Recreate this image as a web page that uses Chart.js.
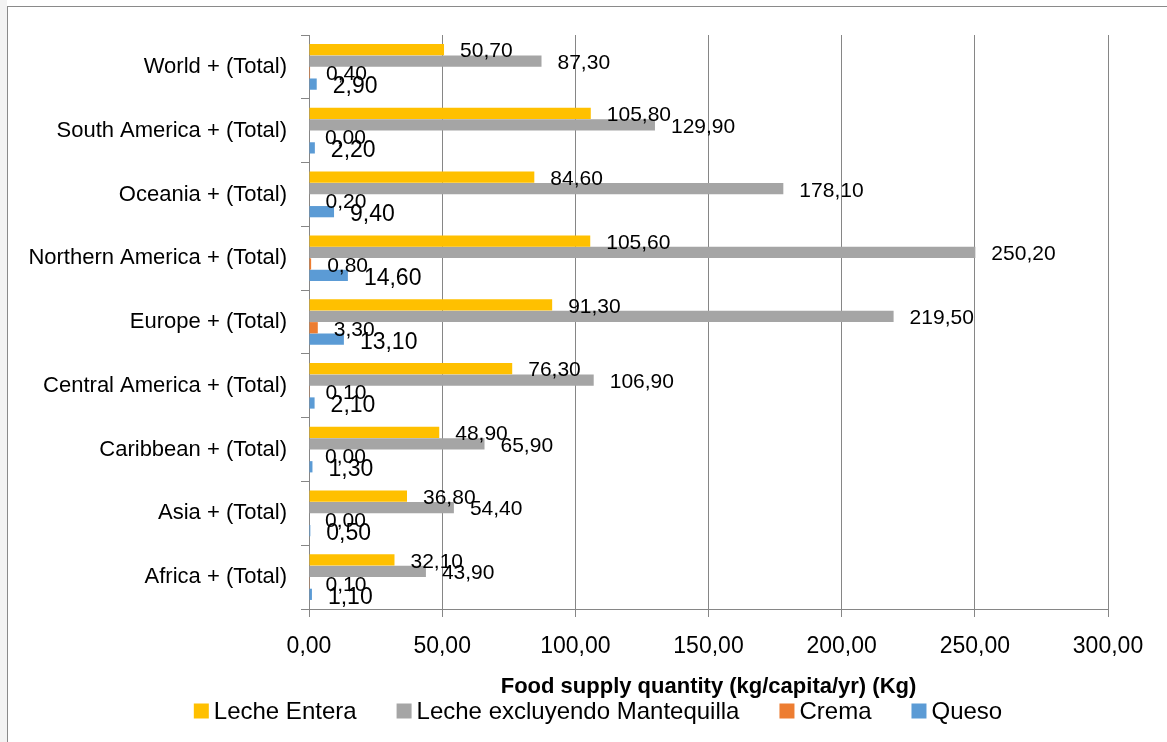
<!DOCTYPE html>
<html>
<head>
<meta charset="utf-8">
<script src="https://cdn.jsdelivr.net/npm/chart.js@4.4.1/dist/chart.umd.min.js"></script>
<style>
  html, body { margin: 0; padding: 0; background: #ffffff; }
  #wrap { position: relative; width: 1167px; height: 742px; overflow: hidden; }
  #strip { position: absolute; left: 0; top: 0; width: 7px; height: 742px; background: #f3f3f3; }
  #frame { position: absolute; left: 7px; top: 6px; width: 1200px; height: 800px; border-left: 1px solid #8a8a8a; border-top: 1px solid #8a8a8a; }
  #c { position: absolute; left: 0; top: 0; }
</style>
</head>
<body>
<div id="wrap">
  <div id="strip"></div>
  <div id="frame"></div>
  <canvas id="c" width="1167" height="742"></canvas>
</div>
<script>
const categories = [
  "World + (Total)",
  "South America + (Total)",
  "Oceania + (Total)",
  "Northern America + (Total)",
  "Europe + (Total)",
  "Central America + (Total)",
  "Caribbean + (Total)",
  "Asia + (Total)",
  "Africa + (Total)"
];
const lecheEntera = [50.7, 105.8, 84.6, 105.6, 91.3, 76.3, 48.9, 36.8, 32.1];
const lecheExcl   = [87.3, 129.9, 178.1, 250.2, 219.5, 106.9, 65.9, 54.4, 43.9];
const crema       = [0.4, 0.0, 0.2, 0.8, 3.3, 0.1, 0.0, 0.0, 0.1];
const queso       = [2.9, 2.2, 9.4, 14.6, 13.1, 2.1, 1.3, 0.5, 1.1];
const seriesNames = ["Leche Entera", "Leche excluyendo Mantequilla", "Crema", "Queso"];
const xTicks = [0, 50, 100, 150, 200, 250, 300];
const axisTitle = "Food supply quantity (kg/capita/yr) (Kg)";

const FONT = "'Liberation Sans', Arial, sans-serif";
const fmt = v => v.toFixed(2).replace('.', ',');

const labelPlugin = {
  id: 'valueLabels',
  afterDatasetsDraw(chart) {
    const ctx = chart.ctx;
    ctx.save();
    chart.data.datasets.forEach((ds, di) => {
      const meta = chart.getDatasetMeta(di);
      const size = di === 3 ? 23 : 21;
      ctx.font = size + "px " + FONT;
      ctx.fillStyle = '#000000';
      ctx.textAlign = 'left';
      ctx.textBaseline = 'middle';
      meta.data.forEach((el, i) => {
        const x = Math.max(el.x, el.base) + 16;
        ctx.fillText(fmt(ds.data[i]), x, el.y + (di === 3 ? 3 : 2));
      });
    });
    ctx.restore();
  }
};

// Legend built from the chart's datasets (names + colours)
const legendPlugin = {
  id: 'bottomLegend',
  afterDraw(chart) {
    const ctx = chart.ctx;
    const box = 15, textGap = 5, itemGap = 40, centerX = 598, cy = 711;
    ctx.save();
    ctx.font = "24px " + FONT;
    const items = chart.data.datasets.map(ds => ({
      text: ds.label, color: ds.backgroundColor,
      w: box + textGap + ctx.measureText(ds.label).width
    }));
    const total = items.reduce((s, it) => s + it.w, 0) + itemGap * (items.length - 1);
    let x = centerX - total / 2;
    ctx.textBaseline = 'middle';
    ctx.textAlign = 'left';
    items.forEach(it => {
      ctx.fillStyle = it.color;
      ctx.fillRect(x, cy - box / 2, box, box);
      ctx.fillStyle = '#000';
      ctx.fillText(it.text, x + box + textGap, cy + 1);
      x += it.w + itemGap;
    });
    ctx.restore();
  }
};

new Chart(document.getElementById('c'), {
  type: 'bar',
  data: {
    labels: categories,
    datasets: [
      { label: seriesNames[0], data: lecheEntera, backgroundColor: '#FFC000' },
      { label: seriesNames[1], data: lecheExcl, backgroundColor: '#A5A5A5' },
      { label: seriesNames[2], data: crema, backgroundColor: '#ED7D31' },
      { label: seriesNames[3], data: queso, backgroundColor: '#5B9BD5' }
    ]
  },
  plugins: [labelPlugin, legendPlugin],
  options: {
    indexAxis: 'y',
    responsive: false,
    animation: false,
    devicePixelRatio: 1,
    categoryPercentage: 0.72,
    barPercentage: 0.98,
    layout: { padding: { top: 35, right: 59, left: 0, bottom: 40 } },
    plugins: {
      tooltip: { enabled: false },
      legend: { display: false }
    },
    scales: {
      y: {
        afterFit(scale) { scale.width = 309; },
        grid: { drawOnChartArea: false, drawTicks: true, tickLength: 8, color: '#868686', offset: true },
        border: { display: true, color: '#868686' },
        ticks: { color: '#000', padding: 14, font: { family: FONT, size: 22 } }
      },
      x: {
        min: 0, max: 300,
        afterBuildTicks(scale) { scale.ticks = xTicks.map(v => ({ value: v })); },
        grid: { color: '#868686', tickLength: 8, drawTicks: true },
        border: { display: true, color: '#868686' },
        ticks: { color: '#000', padding: 16, font: { family: FONT, size: 23 }, callback: v => fmt(v), maxRotation: 0 },
        title: { display: true, text: axisTitle, color: '#000', padding: { top: -3, bottom: 2 }, font: { family: FONT, size: 22, weight: 'bold' } }
      }
    }
  }
});
</script>
</body>
</html>
